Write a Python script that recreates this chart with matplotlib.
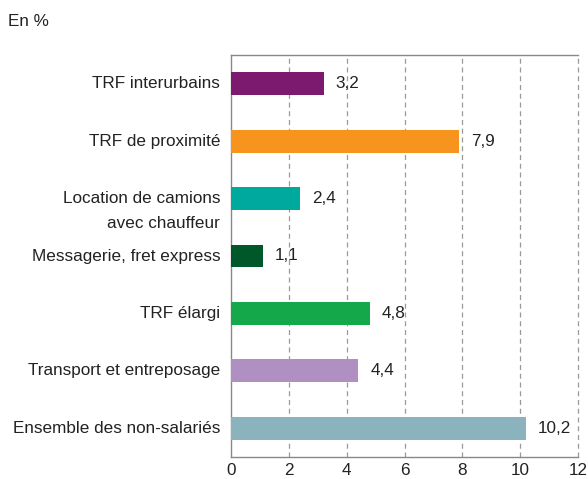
import matplotlib.pyplot as plt

categories = ["TRF interurbains", "TRF de proximité", "Location de camions\navec chauffeur",
              "Messagerie, fret express", "TRF élargi", "Transport et entreposage",
              "Ensemble des non-salariés"]
values = [3.2, 7.9, 2.4, 1.1, 4.8, 4.4, 10.2]
colors = ["#7b1a6e", "#f7941d", "#00a99d", "#00582a", "#14a84b", "#b08fc2", "#8bb3be"]
xticks = [0, 2, 4, 6, 8, 10, 12]

plt.rcParams['font.family'] = ['Liberation Sans', 'DejaVu Sans']
fs = 12.3

fig = plt.figure(figsize=(5.88, 4.79), dpi=100)
ax = fig.add_axes([231 / 588, 1 - 457 / 479, 347 / 588, 402 / 479])

pos = list(range(len(values)))
ax.barh(pos, values, height=0.4, color=colors, zorder=3)
for p, v in zip(pos, values):
    ax.text(v + 0.42, p, f"{v:.1f}".replace(".", ","), va="center", ha="left",
            fontsize=fs, color="#222222", zorder=4)

ax.set_xlim(0, 12)
ax.set_ylim(len(values) - 0.5, -0.5)
ax.set_xticks(xticks)
ax.set_xticklabels([str(t) for t in xticks], fontsize=fs, color="#222222")
ax.set_yticks(pos)
ax.set_yticklabels([])
for p, c in zip(pos, categories):
    if "\n" in c:
        # first line sits on the bar centre
        ax.text(-0.37, p - 0.14, c, ha="right", va="top", fontsize=fs,
                color="#222222", linespacing=1.9)
    else:
        ax.text(-0.37, p, c, ha="right", va="center", fontsize=fs, color="#222222")
ax.tick_params(length=0, pad=4)

for x in xticks[1:]:
    ax.axvline(x, color="#999999", lw=0.9, ls=(0, (4, 3)), zorder=1, clip_on=False)
for s in ["left", "bottom", "top"]:
    ax.spines[s].set_color("#888888")
    ax.spines[s].set_linewidth(1)
ax.spines["right"].set_visible(False)

fig.text(8 / 588, 1 - 22 / 479, "En %", fontsize=fs, color="#222222", va="center")

fig.savefig("out.png", dpi=100)
